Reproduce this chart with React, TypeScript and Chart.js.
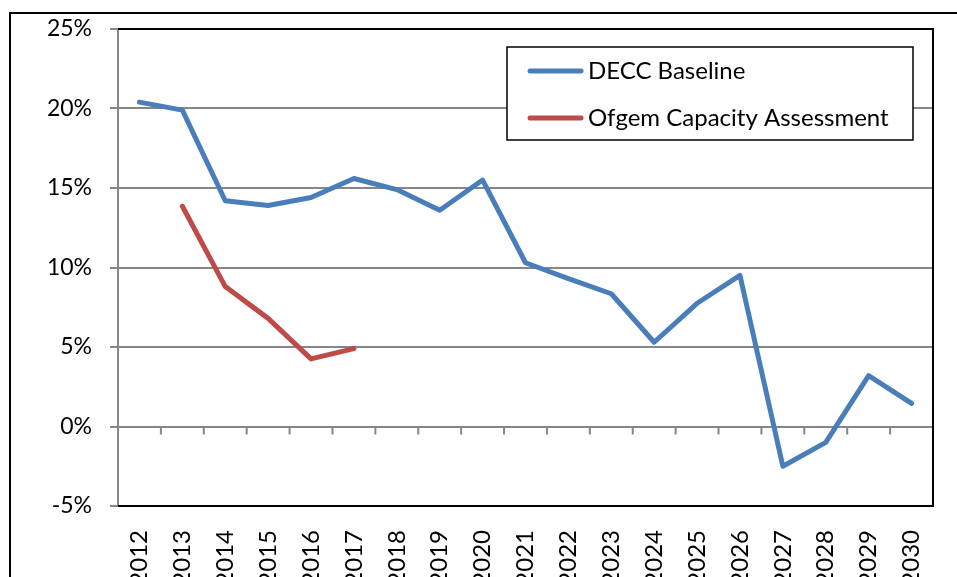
import React, { useEffect, useRef } from "react";
import { Chart, registerables } from "chart.js";

Chart.register(...registerables);

const categories = ["2012","2013","2014","2015","2016","2017","2018","2019","2020","2021","2022","2023","2024","2025","2026","2027","2028","2029","2030"];
const deccBaseline = [20.4, 19.9, 14.2, 13.9, 14.4, 15.6, 14.9, 13.6, 15.5, 10.3, 9.3, 8.35, 5.3, 7.75, 9.5, -2.5, -1.0, 3.2, 1.45];
const ofgemCapacity = [null, 13.85, 8.8, 6.8, 4.25, 4.9, null, null, null, null, null, null, null, null, null, null, null, null, null];
const yTicks = [-5, 0, 5, 10, 15, 20, 25];

const GRID = "#868686";

const framePlugin = {
  id: "frame",
  beforeDraw(chart: any) {
    const ctx = chart.ctx;
    ctx.save();
    ctx.strokeStyle = "#000";
    ctx.lineWidth = 2;
    ctx.beginPath();
    ctx.moveTo(10, 1000);
    ctx.lineTo(10, 13);
    ctx.lineTo(2000, 13);
    ctx.stroke();
    ctx.restore();
  },
  beforeDatasetsDraw(chart: any) {
    const { ctx, chartArea } = chart;
    const x = chart.scales.x;
    const y = chart.scales.y;
    ctx.save();
    const y0 = y.getPixelForValue(0);
    ctx.strokeStyle = GRID;
    ctx.lineWidth = 2;
    ctx.beginPath();
    for (let i = 1; i <= categories.length; i++) {
      const bx = i < categories.length
        ? (x.getPixelForValue(i - 1) + x.getPixelForValue(i)) / 2
        : chartArea.right;
      ctx.moveTo(bx, y0);
      ctx.lineTo(bx, y0 + 8);
    }
    ctx.stroke();
    ctx.strokeStyle = "#000";
    ctx.lineWidth = 2;
    ctx.beginPath();
    ctx.moveTo(chartArea.left, chartArea.top);
    ctx.lineTo(chartArea.right, chartArea.top);
    ctx.lineTo(chartArea.right, chartArea.bottom);
    ctx.lineTo(chartArea.left, chartArea.bottom);
    ctx.stroke();
    ctx.restore();
  },
  afterDatasetsDraw(chart: any) {
    const ctx = chart.ctx;
    const bx = 507, by = 47, bw = 406, bh = 93;
    ctx.save();
    ctx.fillStyle = "#fff";
    ctx.fillRect(bx, by, bw, bh);
    ctx.strokeStyle = "#000";
    ctx.lineWidth = 1.5;
    ctx.strokeRect(bx, by, bw, bh);
    const rows = [71, 118];
    chart.data.datasets.forEach((ds: any, i: number) => {
      ctx.strokeStyle = ds.borderColor;
      ctx.lineWidth = 5;
      ctx.lineCap = "round";
      ctx.beginPath();
      ctx.moveTo(530, rows[i]);
      ctx.lineTo(581, rows[i]);
      ctx.stroke();
      ctx.fillStyle = "#000";
      ctx.font = "24px Lato";
      ctx.textBaseline = "middle";
      ctx.textAlign = "left";
      ctx.fillText(ds.label, 588, rows[i]);
    });
    ctx.restore();
  },
};

export default function App() {
  const ref = useRef<HTMLCanvasElement>(null);
  useEffect(() => {
    if (!ref.current) return;
    const chart = new Chart(ref.current, {
      type: "line",
      data: {
        labels: categories,
        datasets: [
          {
            label: "DECC Baseline",
            data: deccBaseline,
            borderColor: "#4A7EBB",
            borderWidth: 5,
            pointRadius: 0,
            tension: 0,
            borderJoinStyle: "round",
            borderCapStyle: "round",
          },
          {
            label: "Ofgem Capacity Assessment",
            data: ofgemCapacity,
            borderColor: "#BE4B48",
            borderWidth: 5,
            pointRadius: 0,
            tension: 0,
            spanGaps: false,
            borderJoinStyle: "round",
            borderCapStyle: "round",
          },
        ],
      },
      options: {
        animation: false,
        responsive: false,
        layout: { padding: { left: 0, top: 29, right: 24, bottom: 0 } },
        plugins: { legend: { display: false }, tooltip: { enabled: false } },
        scales: {
          x: {
            offset: true,
            grid: { display: false },
            border: { display: false },
            ticks: {
              minRotation: 90,
              maxRotation: 90,
              padding: 16,
              color: "#000",
              font: { family: "Lato", size: 24 },
              autoSkip: false,
            },
            afterFit: (s: any) => { s.height = 71; s.paddingLeft = 0; s.paddingRight = 0; },
          },
          y: {
            min: -5,
            max: 25,
            afterBuildTicks: (s: any) => { s.ticks = yTicks.map((v) => ({ value: v })); },
            grid: { color: GRID, lineWidth: 2, tickLength: 8, tickColor: GRID },
            border: { color: GRID, width: 2 },
            ticks: {
              padding: 18,
              color: "#000",
              font: { family: "Lato", size: 23 },
              callback: (v: any) => v + "%",
            },
            afterFit: (s: any) => { s.width = 118; s.paddingTop = 0; s.paddingBottom = 0; },
          },
        },
      },
      plugins: [framePlugin],
    });
    return () => chart.destroy();
  }, []);
  return (
    <div style={{ position: "fixed", left: 0, top: 0, width: 957, height: 577, background: "#fff" }}>
      <canvas ref={ref} width={957} height={577} />
    </div>
  );
}
